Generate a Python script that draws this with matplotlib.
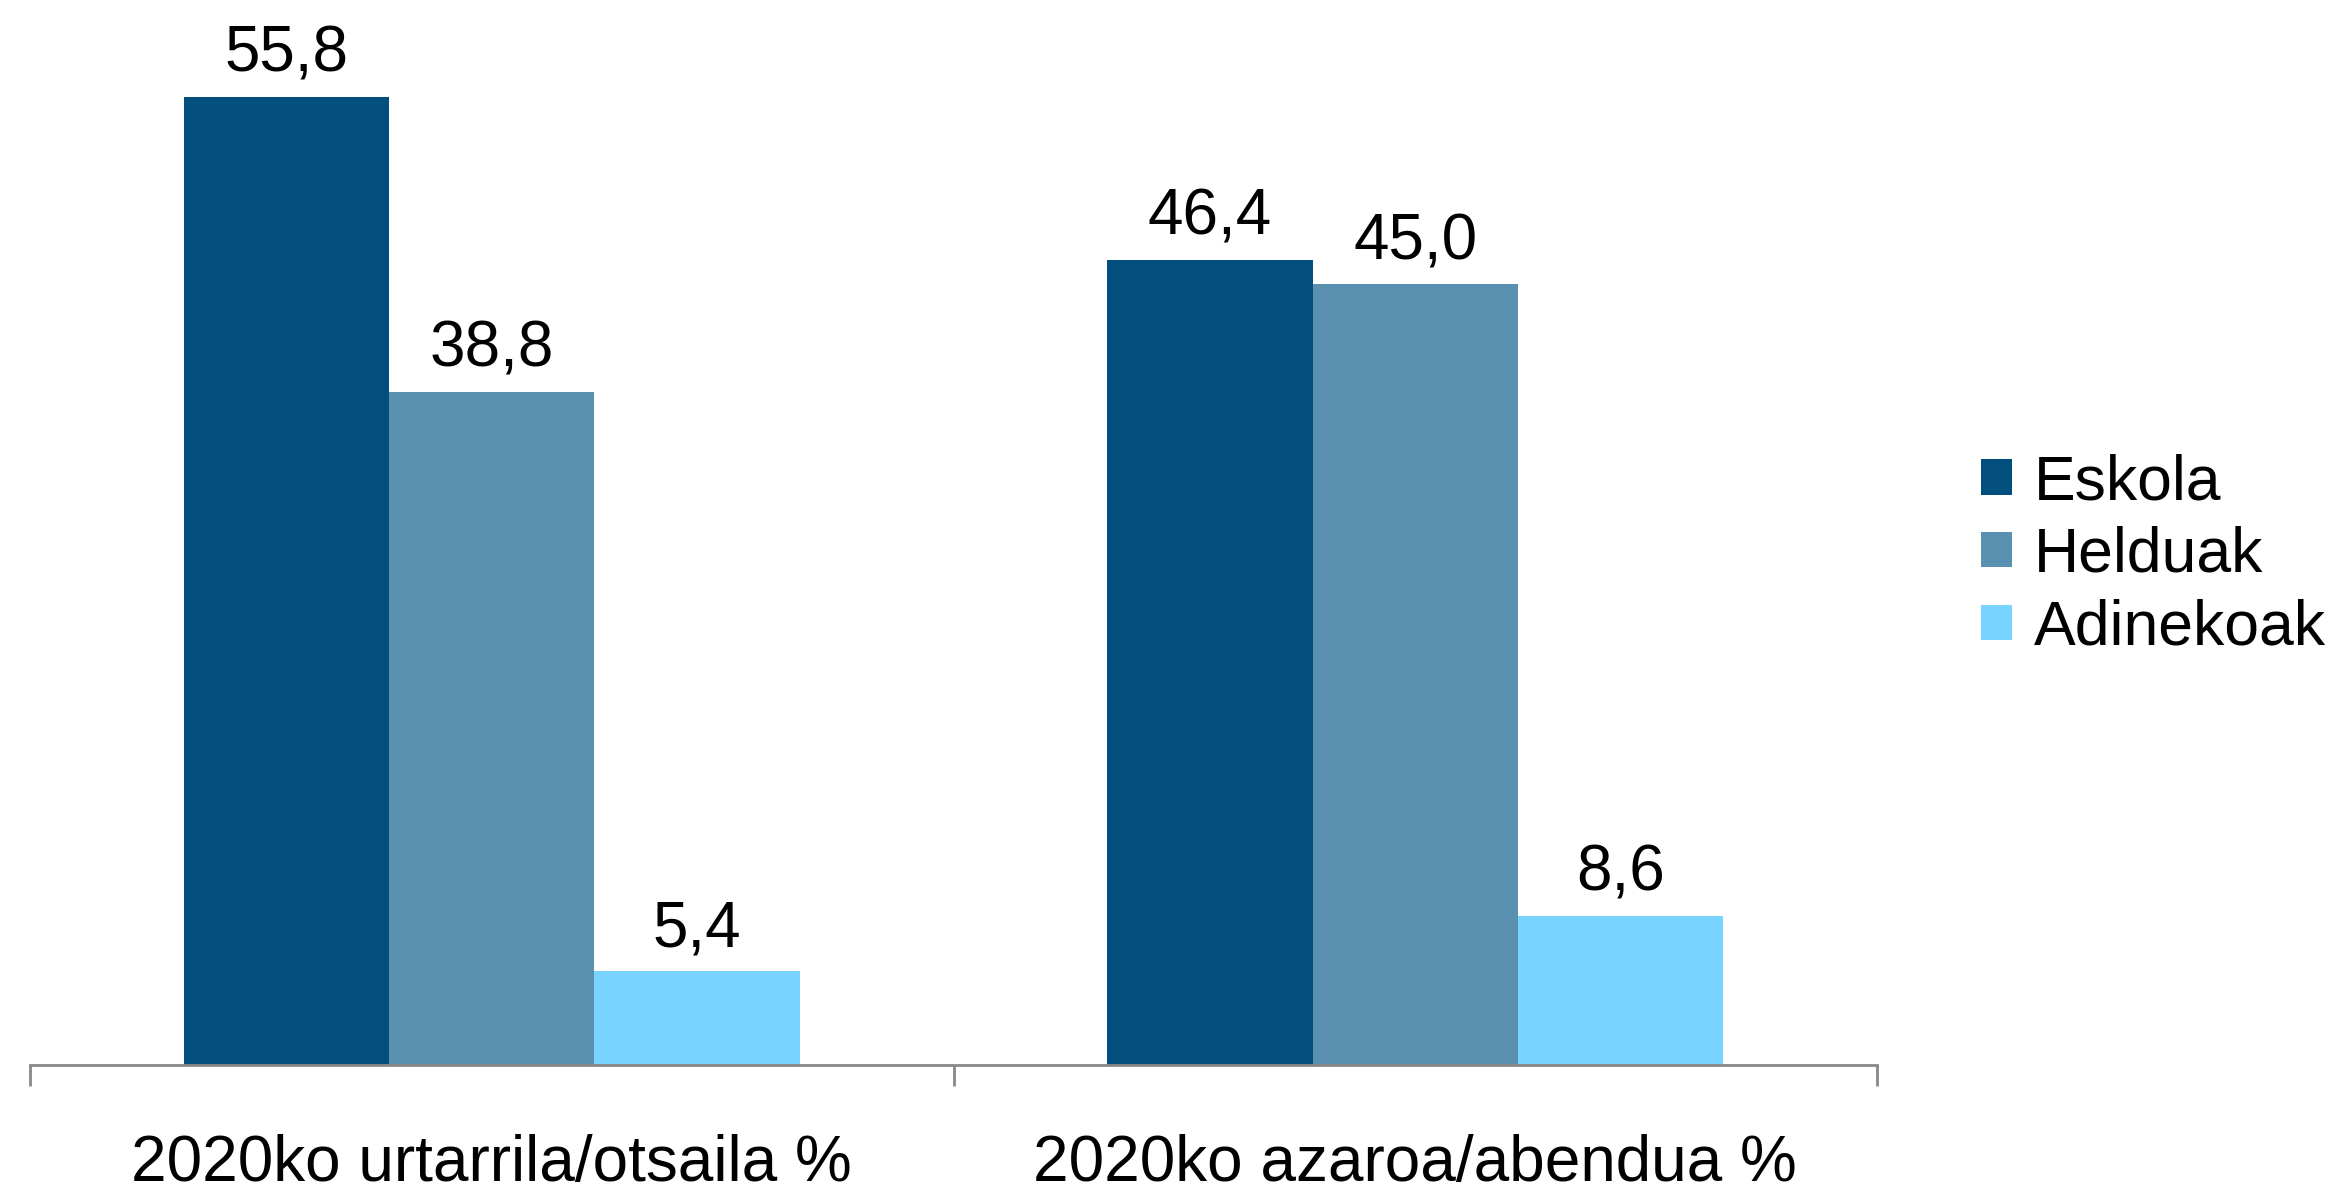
import matplotlib.pyplot as plt
import numpy as np
from matplotlib.patches import Patch

plt.rcParams['font.family'] = ['Liberation Sans', 'DejaVu Sans']

categories = ['2020ko urtarrila/otsaila %', '2020ko azaroa/abendua %']
series_names = ['Eskola', 'Helduak', 'Adinekoak']
eskola = [55.8, 46.4]
helduak = [38.8, 45.0]
adinekoak = [5.4, 8.6]
series_values = [eskola, helduak, adinekoak]
colors = ['#024e7d', '#5a90b0', '#78d4fe']

fig = plt.figure(figsize=(23.39, 11.84), dpi=100)
ax = fig.add_axes([30 / 2339, 119 / 1184, 1847 / 2339, 1041 / 1184])

x = np.arange(len(categories))
width = 0.2225
for i, (vals, col) in enumerate(zip(series_values, colors)):
    pos = x + (i - 1) * width
    ax.bar(pos, vals, width=width, color=col, edgecolor='none')
    for px, v in zip(pos, vals):
        ax.annotate(f'{v:.1f}'.replace('.', ','), (px, v), xytext=(0, 18),
                    textcoords='offset points', ha='center', va='baseline',
                    fontsize=46)

ax.set_xlim(-0.5, len(categories) - 0.5)
ax.set_ylim(0, 60)
for s in ['top', 'right', 'left']:
    ax.spines[s].set_visible(False)
ax.spines['bottom'].set_color('#888888')
ax.spines['bottom'].set_linewidth(2)
ax.set_yticks([])

ax.set_xticks(x)
ax.set_xticklabels(categories, fontsize=46)
ax.tick_params(axis='x', which='major', length=0, pad=50)
ax.set_xticks(np.arange(len(categories) + 1) - 0.5, minor=True)
ax.tick_params(axis='x', which='minor', length=15, width=2, color='#888888')

handles = [Patch(facecolor=c, edgecolor='none') for c in colors]
fig.legend(handles, series_names, loc='center left',
           bbox_to_anchor=(1981 / 2339, 0.531), frameon=False, fontsize=45,
           handlelength=0.5, handleheight=0.5, handletextpad=0.35,
           labelspacing=0.22, borderpad=0, borderaxespad=0)

fig.savefig('out.png', dpi=100)
